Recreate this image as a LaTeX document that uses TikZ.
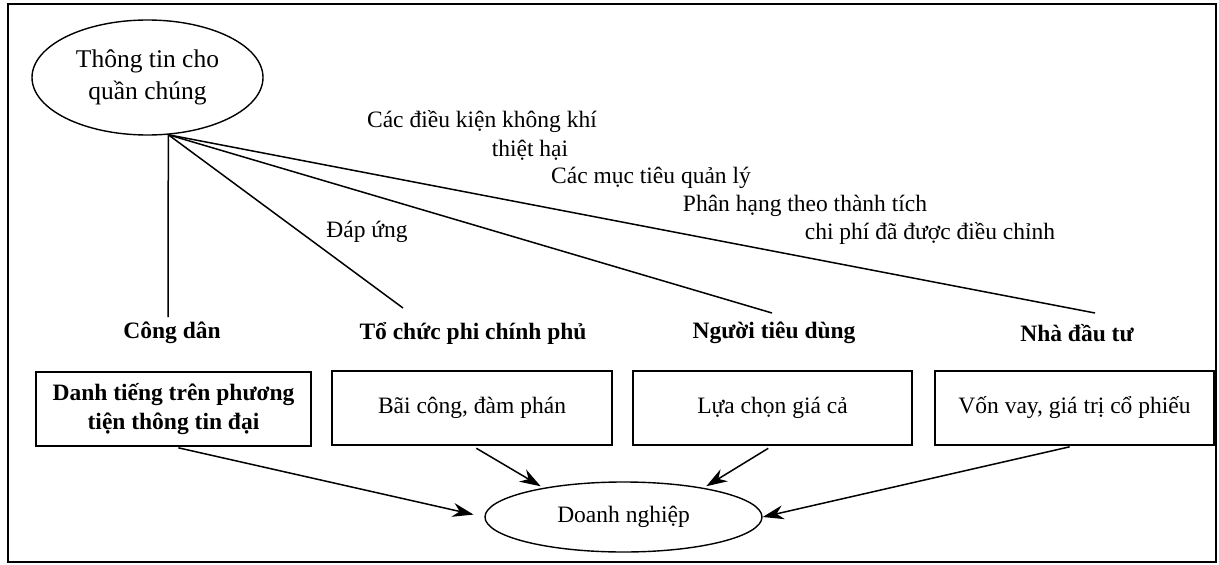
\documentclass[tikz,border=0pt]{standalone}
\usepackage{fontspec}
\setmainfont{Liberation Serif}
\usetikzlibrary{shapes.geometric,arrows.meta}
\begin{document}
\begin{tikzpicture}[x=1pt,y=-1pt,
  lbl/.style={font=\fontsize{23.5}{29}\selectfont, inner sep=0pt},
  blbl/.style={font=\fontsize{23.5}{29}\selectfont\bfseries, inner sep=0pt},
  box/.style={draw, line width=1.4pt, minimum height=74pt, align=center,
    font=\fontsize{23.5}{29}\selectfont, inner sep=2pt},
  oval/.style={draw, ellipse, line width=1.4pt, align=center, inner sep=0pt},
  conn/.style={line width=1.5pt},
  arr/.style={line width=1.5pt, -{Stealth[length=21pt,width=14pt]}, shorten <=5pt}
]
\useasboundingbox (0,0) rectangle (1219,565);
\draw[line width=2pt] (8,4) rectangle (1216,562);

% top ellipse
\node[oval, minimum width=231pt, minimum height=115pt,
  font=\fontsize{25.5}{32}\selectfont] (pub) at (147.5,77.5) {Thông tin cho\\quần chúng};

% stakeholder labels
\node[blbl] (l1) at (172,333) {Công dân};
\node[blbl] (l2) at (473,333) {Tổ chức phi chính phủ};
\node[blbl] (l3) at (774,333) {Người tiêu dùng};
\node[blbl] (l4) at (1077,333) {Nhà đầu tư};

% free ends of the lines
\coordinate (e1) at (168,317);
\coordinate (e2) at (403,308);
\coordinate (e3) at (772,313);
\coordinate (e4) at (1095,313);

\draw[conn] (pub.-70) -- (e1);
\draw[conn] (pub.-70) -- (e2);
\draw[conn] (pub.-70) -- (e3);
\draw[conn] (pub.-70) -- (e4);

% line labels
\node[lbl] (t1) at (482,122) {Các điều kiện không khí};
\node[lbl] (t2) at (530,150) {thiệt hại};
\node[lbl] (t3) at (651,178) {Các mục tiêu quản lý};
\node[lbl] (t4) at (805,206) {Phân hạng theo thành tích};
\node[lbl] (t5) at (930,233) {chi phí đã được điều chỉnh};
\node[lbl] (t6) at (367,232) {Đáp ứng};

% boxes
\node[box, minimum width=275pt, font=\fontsize{23.5}{29}\selectfont\bfseries] (b1) at (173.5,409) {Danh tiếng trên phương\\tiện thông tin đại};
\node[box, minimum width=280pt] (b2) at (472,408) {Bãi công, đàm phán};
\node[box, minimum width=279pt] (b3) at (772.5,408) {Lựa chọn giá cả};
\node[box, minimum width=279pt] (b4) at (1074.5,408) {Vốn vay, giá trị cổ phiếu};

% company
\node[oval, minimum width=277pt, minimum height=70pt,
  font=\fontsize{23.5}{29}\selectfont] (dn) at (623.5,517) {Doanh nghiệp};

\draw[arr, shorten >=11pt] (b1.south) -- (dn.west);
\draw[arr, shorten >=3pt] (b2.south) -- (dn.160);
\draw[arr, shorten >=3pt] (b3.south) -- (dn.20);
\draw[arr] (b4.south) -- (dn.east);
\end{tikzpicture}
\end{document}
